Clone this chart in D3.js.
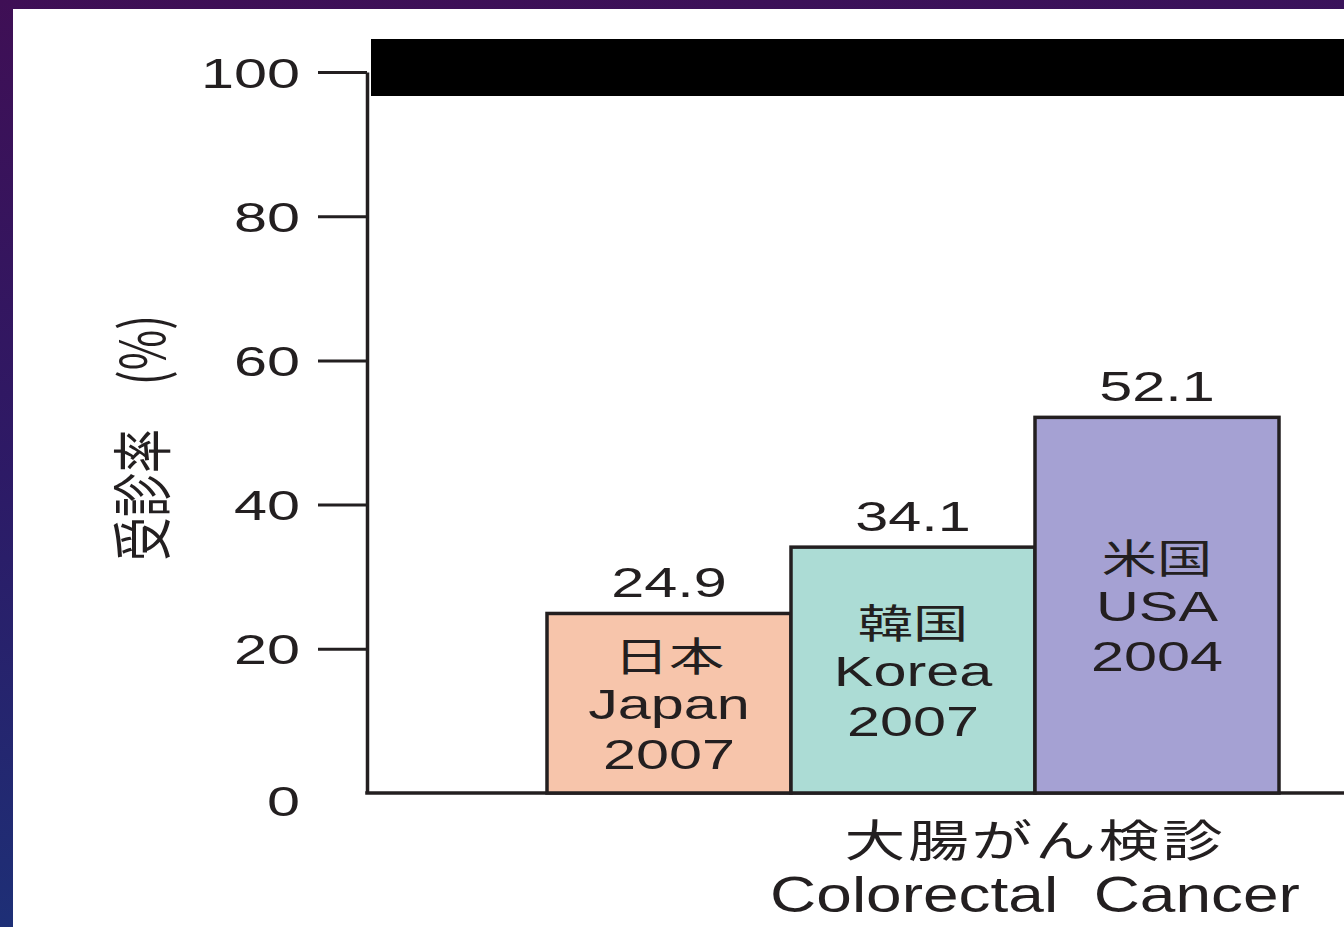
<!DOCTYPE html>
<html>
<head>
<meta charset="utf-8">
<script src="https://cdn.jsdelivr.net/npm/d3@7"></script>
<style>
  html, body { margin: 0; padding: 0; background: #2a1a66; }
  svg { display: block; }
  text { fill: #231f20; }
</style>
</head>
<body>
<svg id="chart" width="1344" height="927"></svg>
<script>
// Colorectal cancer screening rates by country
const countries = ["日本", "韓国", "米国"];
const countriesEn = ["Japan", "Korea", "USA"];
const surveyYears = ["2007", "2007", "2004"];
const rates = [24.9, 34.1, 52.1];
const barColors = ["#f7c5ab", "#acdcd5", "#a5a1d3"];
const yTicks = [0, 20, 40, 60, 80, 100];
const yTitle = "受診率　(%)";
const groupLabel = ["大腸がん検診", "Colorectal  Cancer"];

const W = 1344, H = 927;
const INK = "#231f20";
const SX = 1.38;               // wide glyph proportions
const LATIN = "'Liberation Sans', Arial, 'Noto Sans CJK JP', sans-serif";
const CJK = "'Noto Sans CJK JP', 'Liberation Sans', sans-serif";

const svg = d3.select("#chart");

// slide backdrop
const defs = svg.append("defs");
const grad = defs.append("linearGradient").attr("id", "bg")
  .attr("x1", 0).attr("y1", 0).attr("x2", 0.15).attr("y2", 1);
grad.append("stop").attr("offset", 0).attr("stop-color", "#3f0f55");
grad.append("stop").attr("offset", 0.5).attr("stop-color", "#2d1a66");
grad.append("stop").attr("offset", 1).attr("stop-color", "#1d3077");
svg.append("rect").attr("width", W).attr("height", H).attr("fill", "url(#bg)");
svg.append("rect").attr("x", 13).attr("y", 9).attr("width", W - 13).attr("height", H - 9).attr("fill", "#ffffff");

// scales
const axisX = 367;
const y = d3.scaleLinear().domain([0, 100]).range([793, 72]);
const x = d3.scaleBand().domain(countries).range([547, 1279]).padding(0);

// header band
svg.append("rect").attr("x", 371).attr("y", 39).attr("width", W - 371).attr("height", 57).attr("fill", "#000");

// y axis
const yAxis = d3.axisLeft(y).tickValues(yTicks).tickSizeInner(49).tickSizeOuter(0).tickPadding(18);
const gy = svg.append("g").attr("transform", `translate(${axisX},0)`).call(yAxis);
gy.select(".domain").attr("stroke", INK).attr("stroke-width", 3.5);
gy.selectAll(".tick line").attr("stroke", INK).attr("stroke-width", 3)
  .filter(d => d === 0).remove();
gy.selectAll(".tick text")
  .attr("x", null).attr("dy", null)
  .attr("transform", d => `translate(-67,${d === 0 ? 22 : 15}) scale(${SX},1)`)
  .attr("font-family", LATIN).attr("font-size", 43)
  .attr("fill", INK).attr("text-anchor", "end");

// y title
svg.append("text")
  .attr("transform", `translate(143,438) scale(${SX},1) rotate(-90)`)
  .attr("text-anchor", "middle").attr("dy", "0.36em")
  .attr("font-family", CJK).attr("font-size", 44)
  .text(yTitle);

// baseline
svg.append("line").attr("x1", axisX - 1.75).attr("x2", W).attr("y1", y(0)).attr("y2", y(0))
  .attr("stroke", INK).attr("stroke-width", 3.5);

// bars
const data = countries.map((c, i) => ({ c, en: countriesEn[i], yr: surveyYears[i], v: rates[i], col: barColors[i] }));
const bars = svg.append("g").selectAll("g").data(data).join("g");
bars.append("rect")
  .attr("x", d => x(d.c)).attr("y", d => y(d.v))
  .attr("width", x.bandwidth()).attr("height", d => y(0) - y(d.v))
  .attr("fill", d => d.col).attr("stroke", INK).attr("stroke-width", 3.5);

// value labels above bars
bars.append("text")
  .attr("transform", d => `translate(${x(d.c) + x.bandwidth() / 2},${y(d.v) - 16}) scale(${SX},1)`)
  .attr("text-anchor", "middle").attr("font-family", LATIN).attr("font-size", 43)
  .text(d => d.v.toFixed(1));

// country / year labels inside bars
bars.each(function (d) {
  const cx = x(d.c) + x.bandwidth() / 2;
  const mid = (y(d.v) + y(0)) / 2 + 16;
  const lines = [[d.c, CJK, 40, -48], [d.en, LATIN, 43, 0], [d.yr, LATIN, 43, 50]];
  lines.forEach(([t, f, s, off]) => {
    d3.select(this).append("text")
      .attr("transform", `translate(${cx},${mid + off}) scale(${SX},1)`)
      .attr("text-anchor", "middle").attr("font-family", f).attr("font-size", s)
      .text(t);
  });
});

// category label
const gx = x(countries[2]);
svg.append("text")
  .attr("transform", `translate(${gx},857) scale(${SX},1)`)
  .attr("text-anchor", "middle").attr("font-family", CJK).attr("font-size", 44)
  .attr("letter-spacing", 2)
  .text(groupLabel[0]);
svg.append("text")
  .attr("transform", `translate(${gx},912) scale(1.28,1)`)
  .attr("text-anchor", "middle").attr("font-family", LATIN).attr("font-size", 50)
  .style("white-space", "pre")
  .text(groupLabel[1]);
</script>
</body>
</html>
